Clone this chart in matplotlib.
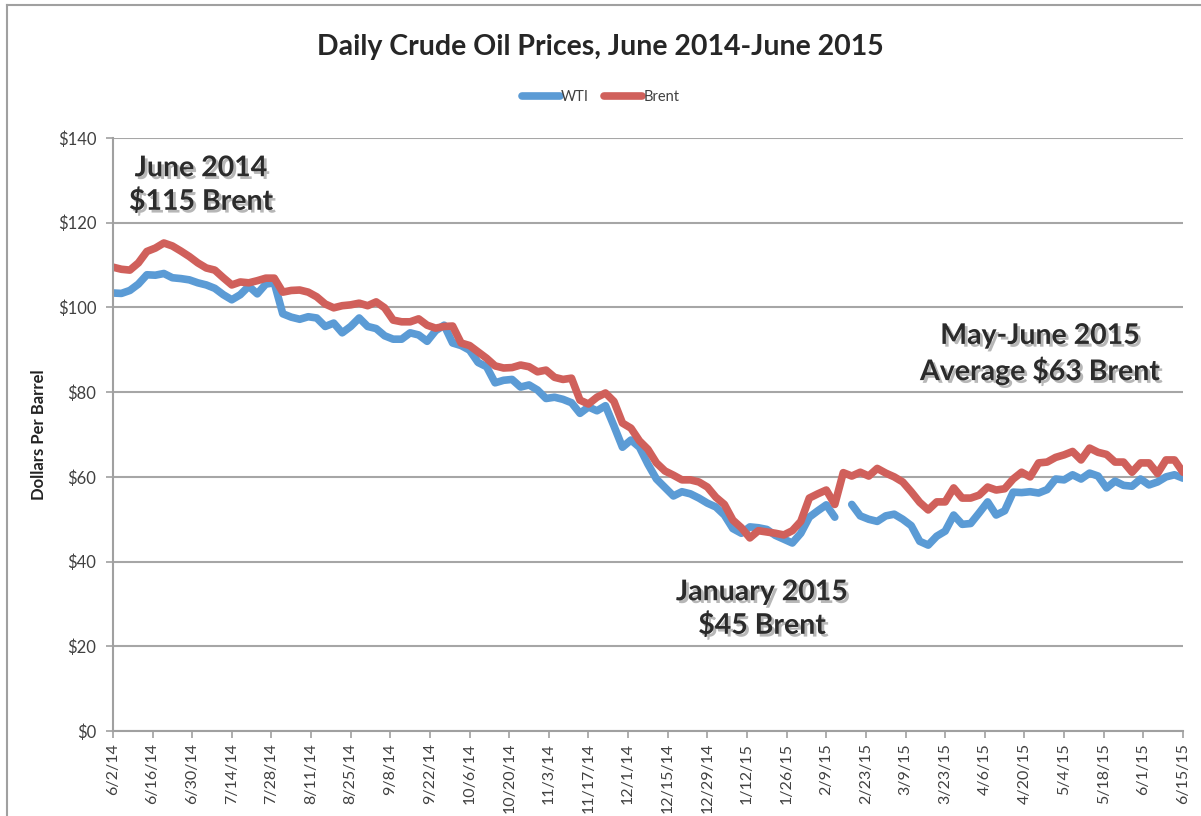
import pandas as pd
import numpy as np
import matplotlib
matplotlib.use("Agg")
import matplotlib.pyplot as plt
import matplotlib.patheffects as pe

plt.rcParams['font.family'] = ['Lato', 'DejaVu Sans']

# prices, one value every 3 days from 6/2/14 to 6/15/15
wti = [103.4, 103.3, 104.0, 105.5, 107.7, 107.6, 108.0, 107.0, 106.8, 106.5,
       105.8, 105.3, 104.5, 103.0, 101.8, 103.0, 105.0, 103.2, 105.5, 105.8,
       98.5, 97.7, 97.2, 97.8, 97.5, 95.5, 96.3, 94.0, 95.5, 97.5,
       95.5, 95.0, 93.3, 92.5, 92.5, 94.0, 93.5, 92.0, 94.5, 95.8,
       91.6, 91.0, 89.9, 87.0, 86.0, 82.2, 82.8, 83.0, 81.2, 81.7,
       80.5, 78.5, 78.8, 78.3, 77.5, 75.0, 76.5, 75.6, 76.8, 72.0,
       67.0, 68.7, 67.0, 63.0, 59.5, 57.5, 55.5, 56.5, 56.0, 55.0,
       53.8, 52.9, 51.0, 47.8, 46.7, 48.2, 48.0, 47.6, 46.2, 45.3,
       44.4, 46.7, 50.5, 52.0, 53.4, 50.5, np.nan, 53.5, 50.8, 50.0,
       49.5, 50.8, 51.2, 50.0, 48.5, 44.8, 43.9, 46.0, 47.2, 51.0,
       48.8, 49.0, 51.5, 54.1, 51.0, 52.0, 56.4, 56.3, 56.5, 56.2,
       57.0, 59.5, 59.3, 60.5, 59.5, 60.9, 60.2, 57.4, 59.0, 58.0,
       57.8, 59.5, 58.1, 58.8, 60.0, 60.5, 59.7]

brent = [109.5, 109.0, 108.8, 110.5, 113.2, 114.0, 115.2, 114.5, 113.3, 112.0,
         110.5, 109.3, 108.8, 107.0, 105.3, 106.0, 105.8, 106.3, 106.9, 106.9,
         103.6, 104.0, 104.1, 103.6, 102.5, 100.8, 99.9, 100.4, 100.6, 101.0,
         100.4, 101.3, 99.9, 97.0, 96.6, 96.6, 97.3, 95.8, 95.1, 95.5,
         95.6, 91.6, 91.0, 89.5, 88.0, 86.2, 85.7, 85.8, 86.4, 86.0,
         84.8, 85.2, 83.5, 83.0, 83.3, 78.1, 77.2, 78.8, 79.8, 77.8,
         72.7, 71.5, 68.5, 66.5, 63.3, 61.4, 60.4, 59.3, 59.3, 58.8,
         57.6, 55.2, 53.5, 49.8, 48.0, 45.6, 47.3, 47.0, 46.7, 46.3,
         47.3, 49.5, 55.0, 56.0, 56.9, 53.5, 61.0, 60.2, 61.1, 60.2,
         62.0, 60.9, 60.0, 58.8, 56.5, 54.0, 52.2, 54.1, 54.1, 57.4,
         55.0, 55.0, 55.7, 57.6, 56.9, 57.2, 59.5, 61.1, 60.0, 63.3,
         63.5, 64.6, 65.2, 66.0, 64.0, 66.8, 65.8, 65.3, 63.5, 63.5,
         61.1, 63.3, 63.3, 60.8, 64.0, 64.0, 61.1]

dates = pd.date_range('2014-06-02', periods=len(wti), freq='3D')
tick_dates = pd.date_range('2014-06-02', '2015-06-15', freq='14D')
tick_labels = [f"{d.month}/{d.day}/{d.strftime('%y')}" for d in tick_dates]
y_ticks = [0, 20, 40, 60, 80, 100, 120, 140]

fig = plt.figure(figsize=(12.01, 8.16), dpi=100)
ax = fig.add_axes([0.094, 0.104, 0.891, 0.727])

ax.plot(dates, wti, color='#5B9BD5', linewidth=5.5, label='WTI', solid_capstyle='round')
ax.plot(dates, brent, color='#D0605B', linewidth=5.5, label='Brent', solid_capstyle='round')

ax.set_xlim(tick_dates[0], tick_dates[-1])
ax.set_ylim(0, 140)
ax.set_xticks(tick_dates)
ax.set_xticklabels(tick_labels, rotation=90, fontsize=11.5, color='#404040')
ax.set_yticks(y_ticks)
ax.set_yticklabels([f"${v}" for v in y_ticks], fontsize=12, color='#404040')
ax.tick_params(axis='both', direction='out', length=5, color='#A0A0A0', width=1.2)
ax.tick_params(axis='y', pad=7)
ax.grid(axis='y', color='#A6A6A6', linewidth=1.5)
ax.set_axisbelow(True)
for s in ['top', 'right']:
    ax.spines[s].set_visible(False)
for s in ['left', 'bottom']:
    ax.spines[s].set_color('#A0A0A0')
    ax.spines[s].set_linewidth(1.5)

ax.set_ylabel('Dollars Per Barrel', fontsize=12, fontweight='bold', color='#222222', labelpad=8)

fig.suptitle('Daily Crude Oil Prices, June 2014-June 2015', y=0.958, fontsize=20.5,
             fontweight='bold', color='#262626')
leg = fig.legend(loc='center', bbox_to_anchor=(0.5, 0.881), ncol=2, frameon=False,
                 fontsize=10.5, handlelength=2.6, handletextpad=0.1, columnspacing=1.0)
for t in leg.get_texts():
    t.set_color('#404040')

shadow = [pe.SimplePatchShadow(offset=(2, -2), shadow_rgbFace='#888888', alpha=0.6), pe.Normal()]
notes = [('June 2014\n$115 Brent', 201, 185),
         ('May-June 2015\nAverage $63 Brent', 1040, 354),
         ('January 2015\n$45 Brent', 762, 609)]
for txt, px, py in notes:
    fig.text(px / 1201, 1 - py / 816, txt, ha='center', va='center', fontsize=20.5,
             fontweight='bold', color='#2b2b2b', linespacing=1.3, path_effects=shadow)

fig.add_artist(plt.Line2D([7 / 1201, 7 / 1201], [0, 1 - 5 / 816], color='#A0A0A0', linewidth=1.5))
fig.add_artist(plt.Line2D([7 / 1201, 1], [1 - 5 / 816, 1 - 5 / 816], color='#A0A0A0', linewidth=1.5))

fig.savefig('out.png', dpi=100)
